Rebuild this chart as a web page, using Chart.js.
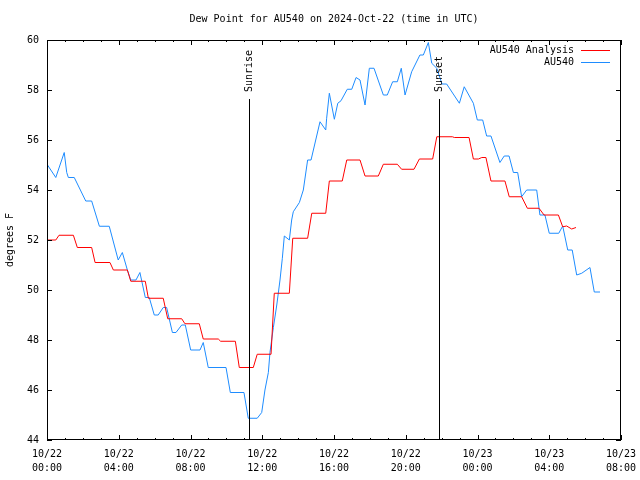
<!DOCTYPE html>
<html>
<head>
<meta charset="utf-8">
<script src="https://cdn.jsdelivr.net/npm/chart.js@4.4.0/dist/chart.umd.min.js"></script>
<style>
    html, body { margin: 0; padding: 0; background: #fff; }
    #wrap { width: 640px; height: 480px; }
</style>
</head>
<body>
<div id="wrap"><canvas id="myChart" width="640" height="480"></canvas></div>
<script>
const chartTitle = 'Dew Point for AU540 on 2024-Oct-22 (time in UTC)'
const yTitle = 'degrees F'
const seriesNames = ['AU540 Analysis', 'AU540']

// hours since 10/22 00:00 UTC
const obsHours = [0, 0.49, 0.96, 1.10, 1.19, 1.52, 2.16, 2.49, 2.92, 3.47, 3.97, 4.20, 4.48, 4.67, 4.96,
    5.18, 5.48, 5.70, 5.98, 6.20, 6.48, 6.67, 6.99, 7.19, 7.51, 7.71, 8.01, 8.53, 8.71, 8.99, 9.98,
    10.22, 10.98, 11.22, 11.72, 11.97, 12.15, 12.34, 12.43, 12.62, 12.81, 12.99, 13.12, 13.23, 13.51,
    13.64, 13.73, 14.07, 14.29, 14.53, 14.72, 15.22, 15.54, 15.59, 15.74, 16.02, 16.21, 16.39, 16.74,
    16.99, 17.23, 17.45, 17.73, 17.97, 18.23, 18.75, 18.97, 19.27, 19.53, 19.75, 19.96, 20.33, 20.79,
    20.98, 21.26, 21.45, 21.73, 22.02, 22.28, 22.99, 23.26, 23.77, 23.99, 24.29, 24.51, 24.75, 25.25,
    25.49, 25.76, 26.00, 26.24, 26.46, 26.74, 27.30, 27.48, 27.76, 28.00, 28.53, 28.75, 29.03, 29.28,
    29.53, 29.81, 30.27, 30.51, 30.83]
const obsValues = [55.03, 54.5, 55.5, 54.7, 54.5, 54.5, 53.56, 53.56, 52.55, 52.55, 51.2, 51.5, 50.8, 50.4, 50.4,
    50.7, 49.7, 49.7, 49.0, 49.0, 49.3, 49.3, 48.3, 48.3, 48.6, 48.6, 47.6, 47.6, 47.9, 46.9, 46.9,
    45.9, 45.9, 44.87, 44.87, 45.1, 46.0, 46.7, 47.5, 48.5, 49.4, 50.4, 51.27, 52.16, 52.0,
    52.8, 53.13, 53.5, 54.0, 55.2, 55.2, 56.73, 56.4, 56.87, 57.87, 56.83, 57.47, 57.57, 58.03,
    58.03, 58.5, 58.4, 57.4, 58.87, 58.87, 57.8, 57.8, 58.33, 58.33, 58.87, 57.8, 58.73, 59.4,
    59.4, 59.9, 59.07, 58.87, 58.24, 58.24, 57.47, 58.13, 57.47, 56.8, 56.8, 56.16, 56.16, 55.1,
    55.36, 55.36, 54.7, 54.7, 53.73, 54.0, 54.0, 53.0, 53.0, 52.27, 52.27, 52.56, 51.6, 51.6,
    50.6, 50.67, 50.9, 49.92, 49.92]

const anaHours = [0, 0.49, 0.67, 1.47, 1.69, 2.49, 2.68, 3.51, 3.70, 4.48, 4.67, 5.48, 5.65, 6.48, 6.73,
    7.51, 7.69, 8.49, 8.71, 9.55, 9.68, 10.50, 10.72, 11.50, 11.72, 12.49, 12.67, 13.51, 13.70, 14.53,
    14.76, 15.54, 15.74, 16.46, 16.71, 17.45, 17.73, 18.47, 18.75, 19.53, 19.77, 20.46, 20.76, 21.50,
    21.73, 22.60, 22.71, 23.53, 23.77, 24.05, 24.24, 24.47, 24.75, 25.53, 25.77, 26.46, 26.78, 27.43,
    27.71, 28.51, 28.75, 28.97, 29.25, 29.49]
const anaValues = [52.0, 52.0, 52.19, 52.19, 51.7, 51.7, 51.1, 51.1, 50.8, 50.8, 50.35, 50.35, 49.67, 49.67, 48.85,
    48.85, 48.65, 48.65, 48.04, 48.04, 47.95, 47.95, 46.9, 46.9, 47.43, 47.43, 49.87, 49.87, 52.07, 52.07,
    53.07, 53.07, 54.36, 54.36, 55.2, 55.2, 54.56, 54.56, 55.03, 55.03, 54.83, 54.83, 55.24, 55.24,
    56.13, 56.13, 56.1, 56.1, 55.24, 55.24, 55.3, 55.3, 54.36, 54.36, 53.73, 53.73, 53.27, 53.27,
    53.0, 53.0, 52.53, 52.56, 52.44, 52.5]

const xTickHours = [0, 4, 8, 12, 16, 20, 24, 28, 32]
const xTickLabels = [['10/22', '00:00'], ['10/22', '04:00'], ['10/22', '08:00'], ['10/22', '12:00'],
    ['10/22', '16:00'], ['10/22', '20:00'], ['10/23', '00:00'], ['10/23', '04:00'], ['10/23', '08:00']]
const yTicks = [44, 46, 48, 50, 52, 54, 56, 58, 60]

const sunLabels = ['Sunrise', 'Sunset']
const sunHours = [11.25, 21.85]

const FONT = "'DejaVu Sans Mono', monospace"
const colorAna = '#ff0000'
const colorObs = '#1e8cff'

const toPoints = (xs, ys) => xs.map((x, i) => ({ x: x, y: ys[i] }))

// gnuplot style frame, inward ticks, legend and sun lines
const decorations = {
    id: 'decorations',
    afterDatasetsDraw(chart) {
        const ctx = chart.ctx
        const a = chart.chartArea
        const xs = chart.scales.x
        const ys = chart.scales.y
        ctx.save()
        ctx.strokeStyle = '#000'
        ctx.lineWidth = 1
        ctx.strokeRect(a.left + 0.5, a.top + 0.5, a.right - a.left - 1, a.bottom - a.top - 1)

        ctx.beginPath()
        for (let h = 0; h <= 32; h++) {
            let px = Math.round(xs.getPixelForValue(h)) + 0.5
            let len = (h % 4 === 0) ? 5 : 2
            ctx.moveTo(px, a.bottom)
            ctx.lineTo(px, a.bottom - len)
            ctx.moveTo(px, a.top)
            ctx.lineTo(px, a.top + len)
        }
        yTicks.forEach(v => {
            let py = Math.round(ys.getPixelForValue(v)) + 0.5
            ctx.moveTo(a.left, py)
            ctx.lineTo(a.left + 5, py)
            ctx.moveTo(a.right, py)
            ctx.lineTo(a.right - 5, py)
        })
        ctx.stroke()

        // sunrise / sunset
        ctx.font = '10px ' + FONT
        ctx.fillStyle = '#000'
        sunHours.forEach((h, i) => {
            let px = Math.round(xs.getPixelForValue(h)) + 0.5
            ctx.beginPath()
            ctx.moveTo(px, a.top + 59)
            ctx.lineTo(px, a.bottom)
            ctx.stroke()
            ctx.save()
            ctx.translate(px, a.top + 52)
            ctx.rotate(-Math.PI / 2)
            ctx.textAlign = 'left'
            ctx.textBaseline = 'middle'
            ctx.fillText(sunLabels[i], 0, 0)
            ctx.restore()
        })

        // legend
        const colors = [colorAna, colorObs]
        ctx.textAlign = 'right'
        ctx.textBaseline = 'middle'
        seriesNames.forEach((name, i) => {
            let y = a.top + 10 + i * 12
            ctx.fillStyle = '#000'
            ctx.fillText(name, a.right - 47, y)
            ctx.strokeStyle = colors[i]
            ctx.beginPath()
            ctx.moveTo(a.right - 40, y + 0.5)
            ctx.lineTo(a.right - 11, y + 0.5)
            ctx.stroke()
        })

        // title and y axis title
        ctx.fillStyle = '#000'
        ctx.textAlign = 'center'
        ctx.fillText(chartTitle, (a.left + a.right) / 2, 19)
        ctx.save()
        ctx.translate(10, (a.top + a.bottom) / 2)
        ctx.rotate(-Math.PI / 2)
        ctx.fillText(yTitle, 0, 0)
        ctx.restore()
        ctx.restore()
    }
}

const ctx = document.getElementById('myChart')

const myChart = new Chart(ctx, {
    type: 'line',
    data: {
        datasets: [{
            label: seriesNames[0],
            data: toPoints(anaHours, anaValues),
            borderColor: colorAna,
            borderWidth: 1,
            pointRadius: 0,
            tension: 0,
        }, {
            label: seriesNames[1],
            data: toPoints(obsHours, obsValues),
            borderColor: colorObs,
            borderWidth: 1,
            pointRadius: 0,
            tension: 0,
        }],
    },
    options: {
        responsive: false,
        animation: false,
        devicePixelRatio: 1,
        layout: { padding: { top: 40, right: 19, left: 0, bottom: 0 } },
        plugins: {
            legend: { display: false },
            tooltip: { enabled: false },
        },
        scales: {
            x: {
                type: 'linear',
                min: 0,
                max: 32,
                afterBuildTicks: (scale) => { scale.ticks = xTickHours.map(v => ({ value: v })) },
                afterFit: (scale) => {
                    scale.height = 40
                    scale.paddingLeft = 0
                    scale.paddingRight = 0
                },
                grid: { display: false, drawTicks: false },
                border: { display: false },
                ticks: {
                    autoSkip: false,
                    maxRotation: 0,
                    padding: 7,
                    color: '#000',
                    font: { family: FONT, size: 10, lineHeight: 1.4 },
                    callback: (v) => xTickLabels[xTickHours.indexOf(v)],
                },
            },
            y: {
                min: 44,
                max: 60,
                afterBuildTicks: (scale) => { scale.ticks = yTicks.map(v => ({ value: v })) },
                afterFit: (scale) => {
                    scale.width = 47
                    scale.paddingTop = 0
                    scale.paddingBottom = 0
                },
                grid: { display: false, drawTicks: false },
                border: { display: false },
                ticks: {
                    padding: 8,
                    color: '#000',
                    font: { family: FONT, size: 10 },
                },
            },
        },
    },
    plugins: [decorations],
})
</script>
</body>
</html>
